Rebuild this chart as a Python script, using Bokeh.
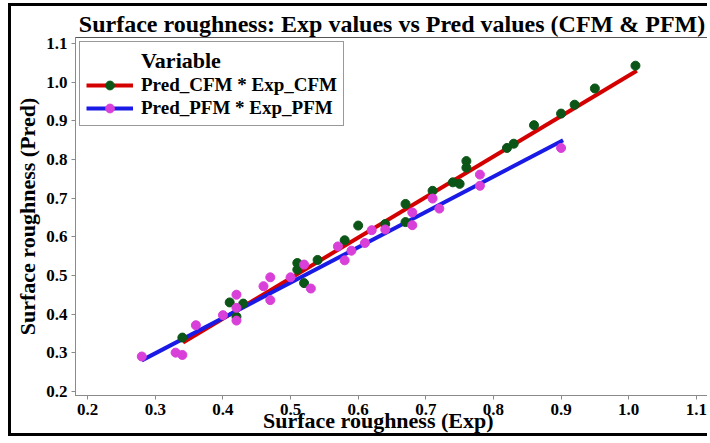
from bokeh.plotting import figure
from bokeh.models import FixedTicker, NumeralTickFormatter, Legend, LegendItem, Range1d
from bokeh.embed import file_html
from bokeh.resources import INLINE

# ---- data ----
exp_cfm = [0.34, 0.41, 0.42, 0.43, 0.51, 0.51, 0.52, 0.54, 0.58, 0.60, 0.64, 0.67, 0.67,
           0.71, 0.74, 0.75, 0.76, 0.76, 0.82, 0.83, 0.86, 0.90, 0.92, 0.95, 1.01]
pred_cfm = [0.339, 0.430, 0.393, 0.427, 0.532, 0.515, 0.480, 0.540, 0.591, 0.629, 0.633, 0.638, 0.685,
            0.719, 0.741, 0.737, 0.779, 0.796, 0.830, 0.841, 0.889, 0.919, 0.942, 0.984, 1.043]

exp_pfm = [0.28, 0.33, 0.34, 0.36, 0.40, 0.42, 0.42, 0.42, 0.46, 0.47, 0.47, 0.50, 0.52, 0.53,
           0.57, 0.58, 0.59, 0.61, 0.62, 0.64, 0.68, 0.68, 0.71, 0.72, 0.78, 0.78, 0.90]
pred_pfm = [0.290, 0.300, 0.294, 0.371, 0.397, 0.450, 0.416, 0.383, 0.472, 0.495, 0.436, 0.495, 0.528, 0.466,
            0.575, 0.539, 0.564, 0.584, 0.617, 0.619, 0.663, 0.630, 0.699, 0.673, 0.761, 0.732, 0.830]

# fitted lines (end points)
fit_cfm_x = [0.341, 1.012]
fit_cfm_y = [0.326, 1.030]
fit_pfm_x = [0.280, 0.903]
fit_pfm_y = [0.280, 0.850]

ticks = [0.2, 0.3, 0.4, 0.5, 0.6, 0.7, 0.8, 0.9, 1.0, 1.1]
tick_labels = ["0.2", "0.3", "0.4", "0.5", "0.6", "0.7", "0.8", "0.9", "1.0", "1.1"]

series_names = ["Pred_CFM * Exp_CFM", "Pred_PFM * Exp_PFM"]

FONT = "Liberation Serif"
RED = "#d40000"
BLUE = "#1a1ae6"
GREEN = "#0b5517"
MAGENTA = "#d93fd9"
NB = "\u00a0"

p = figure(width=699, height=433,
           x_range=Range1d(0.182, 1.118), y_range=Range1d(0.189, 1.116),
           output_backend="svg", toolbar_location=None,
           min_border_left=64, min_border_right=2, min_border_top=31, min_border_bottom=44,
           title="Surface roughness: Exp values vs Pred values (CFM & PFM)")
p.styles = {"margin-left": "8px", "margin-top": "3px",
            "border-left": "3px solid black", "border-top": "3px solid black",
            "border-bottom": "3px solid black"}

p.title.text_font = FONT
p.title.text_font_size = "24px"
p.title.text_font_style = "bold"
p.title.align = "center"
p.title.text_color = "black"
p.title.standoff = 1

p.grid.visible = False
p.outline_line_color = "#555555"
p.outline_line_width = 1
p.background_fill_color = "white"
p.border_fill_color = "white"

for ax in (p.xaxis, p.yaxis):
    ax.ticker = FixedTicker(ticks=ticks)
    ax.formatter = NumeralTickFormatter(format="0.0")
    ax.major_label_overrides = dict(zip(ticks, tick_labels))
    ax.major_label_text_font = FONT
    ax.major_label_text_font_size = "17px"
    ax.major_label_text_font_style = "bold"
    ax.major_label_text_color = "black"
    ax.axis_label_text_font = FONT
    ax.axis_label_text_font_size = "22px"
    ax.axis_label_text_font_style = "bold"
    ax.axis_label_text_color = "black"
    ax.axis_line_color = "#8a8a8a"
    ax.major_tick_line_color = "#8a8a8a"
    ax.major_tick_out = 4
    ax.major_tick_in = 0
    ax.minor_tick_line_color = None
    ax.major_label_standoff = 4

p.xaxis.axis_label = "Surface roughness (Exp)" + NB * 5
p.yaxis.axis_label = "Surface roughness (Pred)"
p.xaxis.axis_label_standoff = -10
p.yaxis.axis_label_standoff = 3

l1 = p.line(fit_cfm_x, fit_cfm_y, line_color=RED, line_width=4)
l2 = p.line(fit_pfm_x, fit_pfm_y, line_color=BLUE, line_width=4)
s1 = p.scatter(exp_cfm, pred_cfm, size=9, fill_color=GREEN, line_color=GREEN)
s2 = p.scatter(exp_pfm, pred_pfm, size=9, fill_color=MAGENTA, line_color=MAGENTA)

legend = Legend(items=[LegendItem(label=series_names[0], renderers=[l1, s1]),
                       LegendItem(label=series_names[1], renderers=[l2, s2])],
                location="top_left", margin=4, padding=6,
                title=NB * 10 + "Variable")
legend.title_text_font = FONT
legend.title_text_font_size = "22px"
legend.title_text_font_style = "bold"
legend.title_text_color = "black"
legend.title_standoff = -6
legend.label_text_font = FONT
legend.label_text_font_size = "19px"
legend.label_text_font_style = "bold"
legend.label_text_color = "black"
legend.label_standoff = 8
legend.glyph_width = 47
legend.glyph_height = 22
legend.label_height = 22
legend.spacing = 1
legend.border_line_color = "#333333"
legend.border_line_width = 1
legend.background_fill_alpha = 1
p.add_layout(legend)

open("out.html", "w").write(file_html(p, INLINE))
